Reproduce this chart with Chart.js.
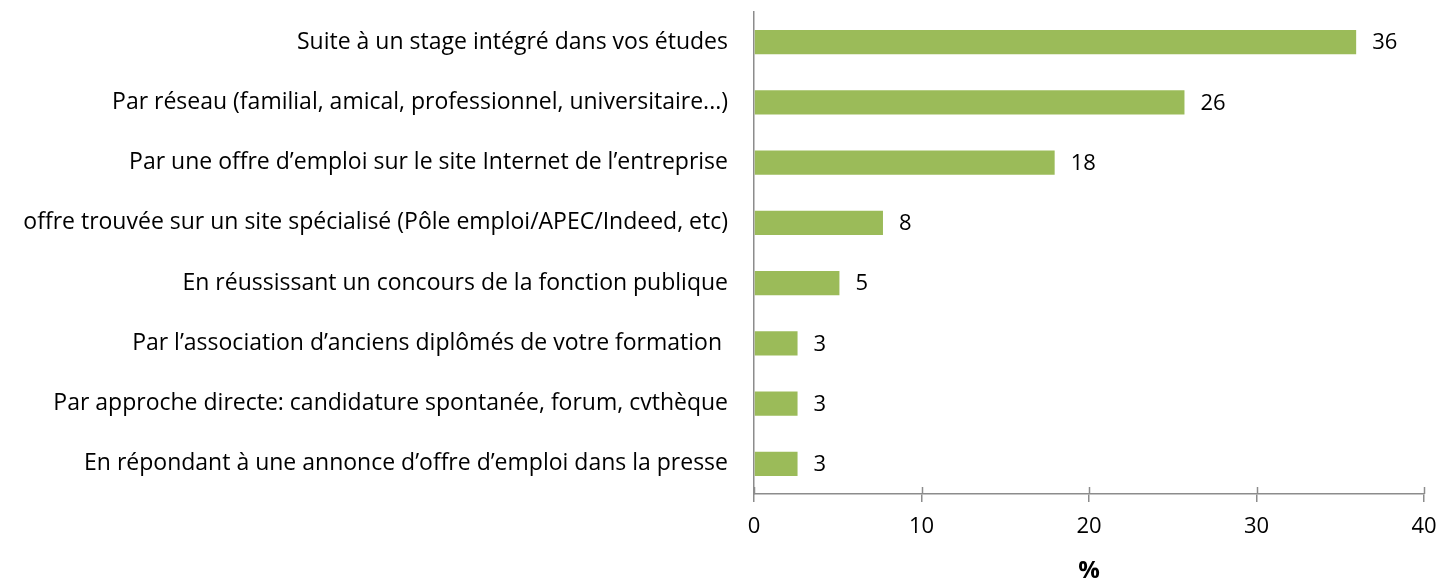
<!DOCTYPE html>
<html>
<head>
<meta charset="utf-8">
<script src="https://cdn.jsdelivr.net/npm/chart.js@4/dist/chart.umd.min.js"></script>
<style>
  html, body { margin: 0; padding: 0; background: #fff; }
  #wrap { width: 1440px; height: 583px; }
</style>
</head>
<body>
<div id="wrap"><canvas id="barChart"></canvas></div>
<script>
// Catégories (modes d'accès à l'emploi)
const categories = [
  'Suite à un stage intégré dans vos études',
  'Par réseau (familial, amical, professionnel, universitaire...)',
  'Par une offre d\u2019emploi sur le site Internet de l\u2019entreprise',
  'offre trouvée sur un site spécialisé (Pôle emploi/APEC/Indeed, etc)',
  'En réussissant un concours de la fonction publique',
  'Par l\u2019association d\u2019anciens diplômés de votre formation ',
  'Par approche directe: candidature spontanée, forum, cvthèque',
  'En répondant à une annonce d\u2019offre d\u2019emploi dans la presse'
];
const values = [35.95, 25.7, 17.95, 7.7, 5.1, 2.6, 2.6, 2.6];
// Étiquettes affichées au bout des barres
const valueLabels = ['36', '26', '18', '8', '5', '3', '3', '3'];
const xTicks = [0, 10, 20, 30, 40];

const fontFamily = "'Open Sans', 'Noto Sans', sans-serif";
const axisColor = '#8c8c8c';

// Plugin : valeurs au bout des barres + petites graduations au-dessus de l'axe X
const extras = {
  id: 'extras',
  afterDatasetsDraw(chart) {
    const ctx = chart.ctx;
    const meta = chart.getDatasetMeta(0);
    ctx.save();
    ctx.font = '22px ' + fontFamily;
    ctx.fillStyle = '#000';
    ctx.textAlign = 'left';
    ctx.textBaseline = 'middle';
    meta.data.forEach((bar, i) => {
      ctx.fillText(valueLabels[i], bar.x + 16, bar.y + 1);
    });
    // graduations traversant l'axe
    const xs = chart.scales.x;
    ctx.strokeStyle = axisColor;
    ctx.lineWidth = 1.5;
    xTicks.forEach(t => {
      const px = Math.round(xs.getPixelForValue(t)) + 0.5;
      ctx.beginPath();
      ctx.moveTo(px, xs.top - 7);
      ctx.lineTo(px, xs.top);
      ctx.stroke();
    });
    ctx.restore();
  }
};

const ctx = document.getElementById('barChart').getContext('2d');
let barChart = new Chart(ctx, {
  type: 'bar',
  data: {
    labels: categories,
    datasets: [{
      data: values,
      backgroundColor: '#9bbb59',
      borderWidth: 0,
      barPercentage: 0.5,
      categoryPercentage: 0.8
    }]
  },
  options: {
    indexAxis: 'y',
    responsive: true,
    maintainAspectRatio: false,
    animation: false,
    layout: { padding: { top: 12, right: 16, left: 0, bottom: 0 } },
    plugins: {
      legend: { display: false },
      tooltip: { enabled: false }
    },
    scales: {
      x: {
        min: 0,
        max: 40,
        afterBuildTicks: (scale) => { scale.ticks = xTicks.map(v => ({ value: v })); },
        afterFit: (scale) => {
          scale.height = 89;
          scale.paddingLeft = 0;
          scale.paddingRight = 0;
        },
        grid: {
          drawOnChartArea: false,
          drawTicks: true,
          tickLength: 8,
          color: axisColor,
          lineWidth: 1.5
        },
        border: { color: axisColor, width: 1.5 },
        ticks: {
          color: '#000',
          font: { family: fontFamily, size: 22 },
          padding: 12
        },
        title: {
          display: true,
          text: '%',
          color: '#000',
          font: { family: fontFamily, size: 24, weight: 'bold', lineHeight: 1.0 },
          padding: { top: 14, bottom: 0 }
        }
      },
      y: {
        afterFit: (scale) => {
          scale.width = 754;
          scale.paddingTop = 0;
          scale.paddingBottom = 0;
        },
        grid: { display: false, drawTicks: false },
        border: { color: axisColor, width: 1.5 },
        ticks: {
          color: '#000',
          font: { family: fontFamily, size: 23 },
          padding: 26,
          autoSkip: false
        }
      }
    }
  },
  plugins: [extras]
});
</script>
</body>
</html>
